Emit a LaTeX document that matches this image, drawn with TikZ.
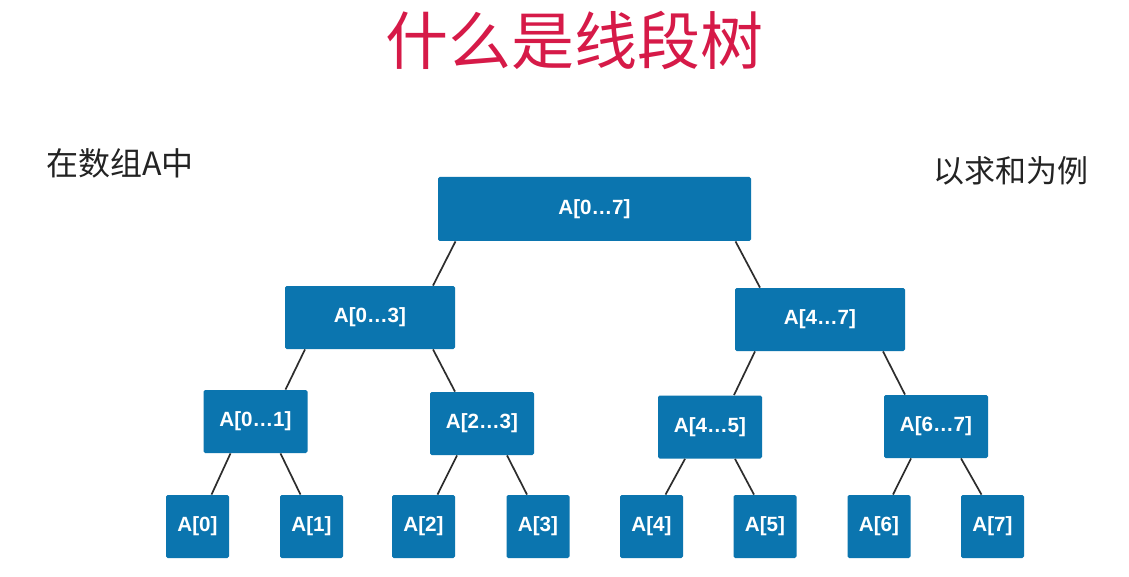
\documentclass[tikz,border=0pt]{standalone}
\usepackage{fontspec}
\setsansfont{Liberation Sans}
\newfontfamily\cjk{Noto Sans CJK SC}
\usepackage{tikz}
\usetikzlibrary{positioning}
\definecolor{SegBlue}{RGB}{11,117,175}
\definecolor{TitleRed}{RGB}{214,26,72}
\definecolor{TextGray}{RGB}{35,35,35}
\definecolor{EdgeGray}{RGB}{45,45,45}

\begin{document}
\begin{tikzpicture}[x=0.5pt,y=-0.5pt,
  seg/.style={fill=SegBlue,rounded corners=0.8pt,text=white,inner sep=0pt,
    font=\sffamily\bfseries\fontsize{10.3}{12}\selectfont,minimum height=31.5pt},
  leaf/.style={seg,minimum width=31.5pt},
  edge/.style={draw=EdgeGray,line width=0.85pt}]
\useasboundingbox[fill=white] (0,0) rectangle (1129,577);
\node[text=TitleRed,font=\cjk\fontsize{31.5}{34}\selectfont] (title) at (574,41) {什么是线段树};
\node[text=TextGray,anchor=west,font=\cjk\fontsize{16}{18}\selectfont] (arr) at (39,163) {在数组A中};
\node[text=TextGray,anchor=west,font=\cjk\fontsize{15.5}{18}\selectfont] (sum) at (926,171) {以求和为例};
\node[seg,minimum width=156.5pt,minimum height=32pt] (root) at (594.5,209) {A[0…7]};
\node[seg,minimum width=85pt] (l) at (370,317.5) {A[0…3]};
\node[seg,minimum width=85pt] (r) at (820,319.5) {A[4…7]};
\node[seg,minimum width=52pt] (ll) at (255.5,421.5) {A[0…1]};
\node[seg,minimum width=52pt] (lr) at (482,423.5) {A[2…3]};
\node[seg,minimum width=52pt] (rl) at (710,427) {A[4…5]};
\node[seg,minimum width=52pt] (rr) at (936,426.5) {A[6…7]};
\foreach \i/\x in {0/197.5,1/311.5,2/423.5,3/538,4/651.5,5/765,6/879,7/992.5}
  \node[leaf] (a\i) at (\x,526.5) {A[\i]};
\foreach \p/\c/\s/\t in {root/l/-69.5/31.5,root/r/70.5/-30,
    l/ll/-32.5/15,l/lr/31.5/-13.5,r/rl/-32.5/12,r/rr/31.5/-15.5,
    ll/a0/-12.5/7,ll/a1/12.5/-5.5,lr/a2/-12.5/7,lr/a3/12.5/-5.5,
    rl/a4/-12.5/7,rl/a5/12.5/-5.5,rr/a6/-12.5/7,rr/a7/12.5/-5.5}
  \draw[edge] ([xshift=\s pt]\p.south) -- ([xshift=\t pt]\c.north);
\end{tikzpicture}
\end{document}
